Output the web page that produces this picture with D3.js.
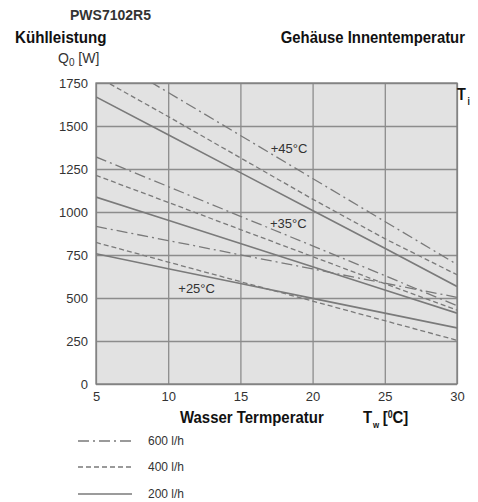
<!DOCTYPE html>
<html>
<head>
<meta charset="utf-8">
<script src="https://cdn.jsdelivr.net/npm/d3@7"></script>
<style>
  html, body { margin: 0; padding: 0; background: #fff; }
  svg { display: block; }
  .cond { font-family: "Liberation Sans", Arial, Helvetica, sans-serif; font-weight: bold; fill: #111; }
  .reg { font-family: "Liberation Sans", Arial, Helvetica, sans-serif; fill: #333; }
</style>
</head>
<body>
<script>
// ---- data ----
const waterTemps = [5, 10, 15, 20, 25, 30];           // T_w [°C]
const yTicks = [0, 250, 500, 750, 1000, 1250, 1500, 1750];
const xTicks = [5, 10, 15, 20, 25, 30];
const flowLabels = ["600 l/h", "400 l/h", "200 l/h"];
const innerTempLabels = ["+45°C", "+35°C", "+25°C"];

// Q0 [W] at the water temperatures above
const q45_600 = [1945, 1695, 1445, 1195, 945, 695];
const q45_400 = [1790, 1555, 1315, 1075, 845, 635];
const q45_200 = [1669, 1449, 1229, 1009, 789, 567];
const q35_600 = [1320, 1148, 975, 803, 630, 455];
const q35_400 = [1213, 1056, 898, 741, 583, 430];
const q35_200 = [1087, 952, 817, 682, 547, 412];
const q25_600 = [916, 834, 751, 669, 586, 504];
const q25_400 = [823, 709, 595, 482, 368, 254];
const q25_200 = [757, 670, 584, 498, 412, 326];

const series = [
  { flow: 0, values: q45_600 }, { flow: 1, values: q45_400 }, { flow: 2, values: q45_200 },
  { flow: 0, values: q35_600 }, { flow: 1, values: q35_400 }, { flow: 2, values: q35_200 },
  { flow: 0, values: q25_600 }, { flow: 1, values: q25_400 }, { flow: 2, values: q25_200 }
];
const labelPos = [ {t: 17.1, q: 1345}, {t: 17.05, q: 909}, {t: 10.7, q: 531} ];

// ---- layout ----
const W = 478, H = 502;
const m = { left: 96, top: 83, right: 21, bottom: 118 };
const pw = W - m.left - m.right, ph = H - m.top - m.bottom;

const dashes = ["11,4,2,4", "5,3", null];
const lineColor = "#7a7a7a";

const svg = d3.select("body").append("svg").attr("width", W).attr("height", H);

const x = d3.scaleLinear().domain([5, 30]).range([m.left, m.left + pw]);
const y = d3.scaleLinear().domain([0, 1750]).range([m.top + ph, m.top]);

svg.append("defs").append("clipPath").attr("id", "plotclip")
  .append("rect").attr("x", m.left).attr("y", m.top).attr("width", pw).attr("height", ph);

// background
svg.append("rect").attr("x", m.left).attr("y", m.top).attr("width", pw).attr("height", ph)
  .attr("fill", "#e2e2e2");

// grid + axes
const gy = svg.append("g").attr("transform", `translate(${m.left},0)`)
  .call(d3.axisLeft(y).tickValues(yTicks).tickSize(-pw).tickPadding(8).tickFormat(d3.format("d")));
gy.select(".domain").remove();
gy.selectAll(".tick line").attr("stroke", "#8c8c8c").attr("stroke-width", 1.3);
gy.selectAll(".tick text").attr("class", "reg").attr("font-size", 13).attr("fill", "#333");

const gx = svg.append("g").attr("transform", `translate(0,${m.top + ph})`)
  .call(d3.axisBottom(x).tickValues(xTicks).tickSize(-ph).tickPadding(8).tickFormat(d3.format("d")));
gx.select(".domain").remove();
gx.selectAll(".tick line").attr("stroke", "#8c8c8c").attr("stroke-width", 1.3);
gx.selectAll(".tick text").attr("class", "reg").attr("font-size", 13).attr("fill", "#333");

svg.append("rect").attr("x", m.left).attr("y", m.top).attr("width", pw).attr("height", ph)
  .attr("fill", "none").attr("stroke", "#7e7e7e").attr("stroke-width", 1.3);

// curves
const line = d3.line().x((d, i) => x(waterTemps[i])).y(d => y(d));
svg.append("g").attr("clip-path", "url(#plotclip)")
  .selectAll("path").data(series).join("path")
  .attr("d", d => line(d.values))
  .attr("fill", "none")
  .attr("stroke", lineColor)
  .attr("stroke-width", d => d.flow === 2 ? 1.6 : 1.3)
  .attr("stroke-dasharray", d => dashes[d.flow]);

// inner temperature labels
svg.append("g").selectAll("text").data(innerTempLabels).join("text")
  .attr("class", "reg").attr("font-size", 13).attr("fill", "#222")
  .attr("x", (d, i) => x(labelPos[i].t)).attr("y", (d, i) => y(labelPos[i].q))
  .text(d => d);

// titles (condensed look via horizontal scaling)
function condText(tx, ty, sx, size, anchor) {
  return svg.append("text").attr("class", "cond")
    .attr("transform", `translate(${tx},${ty}) scale(${sx},1)`)
    .attr("font-size", size).attr("text-anchor", anchor || "start");
}
svg.append("text").attr("class", "reg").attr("x", 70).attr("y", 20)
  .attr("font-size", 14).attr("font-weight", "bold").attr("fill", "#111").text("PWS7102R5");
condText(15, 43, 0.89, 17).text("Kühlleistung");
condText(465, 43, 0.875, 17, "end").text("Gehäuse Innentemperatur");

const q0 = svg.append("text").attr("class", "reg").attr("x", 58).attr("y", 63).attr("font-size", 14).attr("fill", "#333");
q0.append("tspan").text("Q");
q0.append("tspan").attr("font-size", 10).attr("dy", 3).text("0");
q0.append("tspan").attr("dy", -3).text(" [W]");

const ti = condText(457, 100, 0.85, 17);
ti.append("tspan").text("T");
ti.append("tspan").attr("font-size", 10).attr("dy", 5).attr("dx", 2).text("i");

condText(180, 423, 0.88, 17).text("Wasser Termperatur");
const tw = condText(363, 423, 0.88, 17);
tw.append("tspan").text("T");
tw.append("tspan").attr("font-size", 9).attr("dy", 5).attr("dx", 1).text("w");
tw.append("tspan").attr("dy", -5).attr("dx", 4).text("[");
tw.append("tspan").attr("font-size", 10).attr("dy", -5).text("0");
tw.append("tspan").attr("dy", 5).text("C]");

// legend
const legY = [441, 467, 494];
const leg = svg.append("g").selectAll("g").data(flowLabels).join("g");
leg.append("line").attr("x1", 78).attr("x2", 132)
  .attr("y1", (d, i) => legY[i]).attr("y2", (d, i) => legY[i])
  .attr("stroke", lineColor).attr("stroke-width", (d, i) => i === 2 ? 1.6 : 1.3)
  .attr("stroke-dasharray", (d, i) => dashes[i]);
leg.append("text").attr("class", "reg").attr("font-size", 12).attr("fill", "#444")
  .attr("x", 148).attr("y", (d, i) => legY[i] + 4).text(d => d);
</script>
</body>
</html>
